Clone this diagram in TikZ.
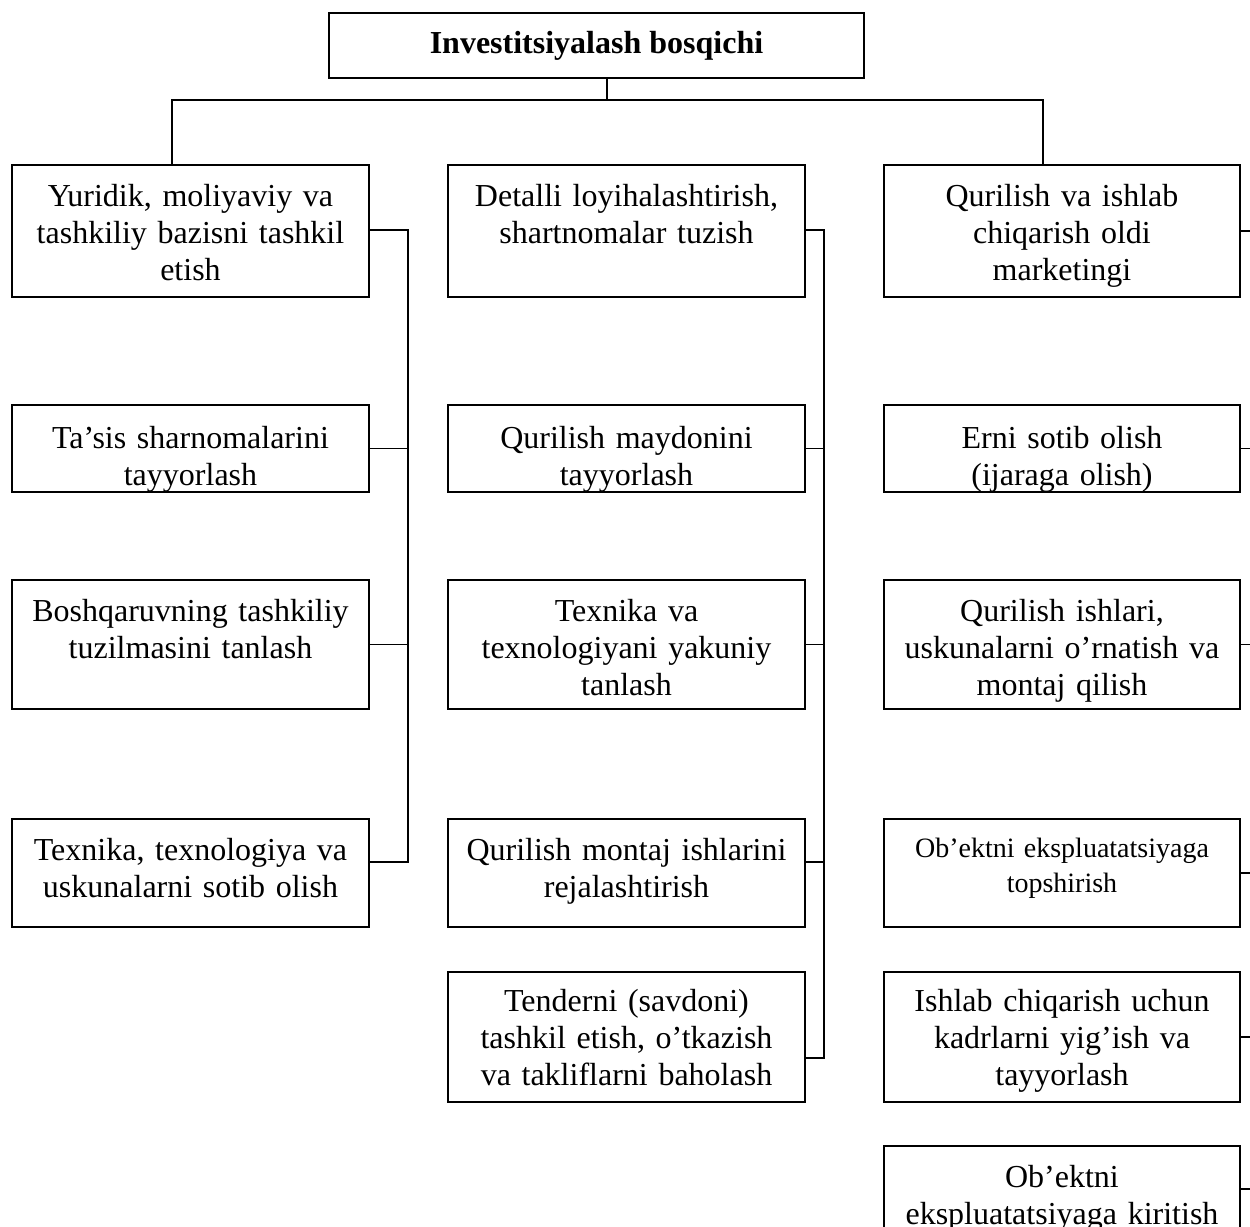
\documentclass[tikz,border=0pt]{standalone}
\usepackage{fontspec}
\setmainfont{Liberation Serif}
% a framed stage box with its text set from the top and cut off at the frame
% #1 extra text style, #2 name, #3 left, #4 top, #5 right, #6 bottom, #7 text
\newcommand\stagebox[7][]{%
  \node[box, minimum width={(#5-#3)*0.5pt}, minimum height={(#6-#4)*0.5pt}]
    (#2) at ({(#3+#5)/2},{(#4+#6)/2}) {};
  \begin{scope}
    \clip ([yshift=1pt]#2.south west) rectangle (#2.north east);
    \node[txt, #1] at ({(#3+#5)/2},{#4+41}) {#7};
  \end{scope}
}
\begin{document}
\begin{tikzpicture}[x=0.5pt,y=-0.5pt,
  box/.style={draw, line width=1pt, rectangle, inner sep=0pt},
  conn/.style={line width=0.75pt},
  txt/.style={font=\fontsize{16}{18.5}\selectfont, align=center,
    text width=172pt, inner sep=0pt, anchor=base},
  smalltxt/.style={font=\fontsize{14}{17.5}\selectfont, yshift=1.5pt},
  lowtxt/.style={yshift=1pt},
  sunktxt/.style={yshift=-1pt}]
\clip (0,0) rectangle (1250,1227);
\fill[white] (0,0) rectangle (1250,1227);

% head box
\node[box, font=\fontsize{16}{18.5}\selectfont\bfseries,
  minimum width=267.5pt, minimum height=32.5pt] (T) at (596.5,45.5)
  {Investitsiyalash bosqichi};

% left column
\stagebox{L1}{12}{165}{369}{297}{Yuridik, moliyaviy va\\ tashkiliy bazisni tashkil\\ etish}
\stagebox[sunktxt]{L2}{12}{405}{369}{492}{Ta’sis sharnomalarini\\ tayyorlash}
\stagebox{L3}{12}{580}{369}{709}{Boshqaruvning tashkiliy\\ tuzilmasini tanlash}
\stagebox{L4}{12}{819}{369}{927}{Texnika, texnologiya va\\ uskunalarni sotib olish}

% middle column
\stagebox{M1}{448}{165}{805}{297}{Detalli loyihalashtirish,\\ shartnomalar tuzish}
\stagebox[sunktxt]{M2}{448}{405}{805}{492}{Qurilish maydonini\\ tayyorlash}
\stagebox{M3}{448}{580}{805}{709}{Texnika va\\ texnologiyani yakuniy\\ tanlash}
\stagebox{M4}{448}{819}{805}{927}{Qurilish montaj ishlarini\\ rejalashtirish}
\stagebox[lowtxt]{M5}{448}{972}{805}{1102}{Tenderni (savdoni)\\ tashkil etish, o’tkazish\\ va takliflarni baholash}

% right column
\stagebox{R1}{884}{165}{1240}{297}{Qurilish va ishlab\\ chiqarish oldi\\ marketingi}
\stagebox[sunktxt]{R2}{884}{405}{1240}{492}{Erni sotib olish\\ (ijaraga olish)}
\stagebox{R3}{884}{580}{1240}{709}{Qurilish ishlari,\\ uskunalarni o’rnatish va\\ montaj qilish}
\stagebox[smalltxt]{R4}{884}{819}{1240}{927}{Ob’ektni ekspluatatsiyaga\\ topshirish}
\stagebox[lowtxt]{R5}{884}{972}{1240}{1102}{Ishlab chiqarish uchun\\ kadrlarni yig’ish va\\ tayyorlash}
\stagebox{R6}{884}{1146}{1240}{1232}{Ob’ektni\\ ekspluatatsiyaga kiritish}

% top distribution line
\coordinate (hl) at (172,100);
\coordinate (hc) at (607,100);
\coordinate (hr) at (1043,100);
\draw[conn] (hc |- T.south) -- (hc);
\draw[conn] (L1.north -| hl) -- (hl) -- (hr) -- (R1.north -| hr);

% left bus
\coordinate (lb1) at (408,230);
\coordinate (lb4) at (408,862);
\draw[conn] (L1.east |- lb1) -- (lb1) -- (lb4) -- (L4.east |- lb4);
\draw[conn] (L2.east) -- (L2.east -| lb1);
\draw[conn] (L3.east) -- (L3.east -| lb1);

% middle bus
\coordinate (mb1) at (824,230);
\coordinate (mb4) at (824,862);
\coordinate (mb5) at (824,1058);
\draw[conn] (M1.east |- mb1) -- (mb1) -- (mb5) -- (M5.east |- mb5);
\draw[conn] (M2.east) -- (M2.east -| mb1);
\draw[conn] (M3.east) -- (M3.east -| mb1);
\draw[conn] (M4.east |- mb4) -- (mb4);

% right column stubs running off to the right
\coordinate (rb) at (1256,0);
\foreach \b in {R1,R2,R3,R4,R5,R6}
  \draw[conn] (\b.east) -- (\b.east -| rb);
\end{tikzpicture}
\end{document}
